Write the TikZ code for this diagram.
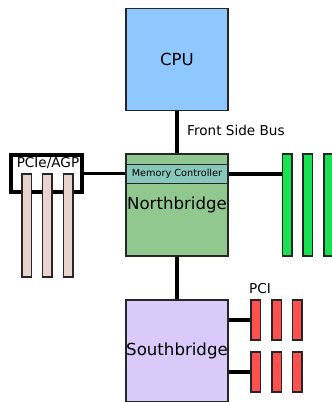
\documentclass[tikz,border=0pt]{standalone}
\usepackage{fontspec}
\setmainfont{DejaVu Sans}
\usetikzlibrary{positioning}
\definecolor{CpuBlue}{RGB}{143,200,255}
\definecolor{NbGreen}{RGB}{144,200,144}
\definecolor{McTeal}{RGB}{136,200,186}
\definecolor{SbLilac}{RGB}{218,202,250}
\definecolor{DimmGreen}{RGB}{24,226,82}
\definecolor{PciRed}{RGB}{255,80,80}
\definecolor{AgpBeige}{RGB}{232,212,204}

\begin{document}
\begin{tikzpicture}[x=1pt, y=-1pt,
  chip/.style={draw=black!85, line width=1.6pt, minimum width=102pt, minimum height=102pt,
    inner sep=0pt, font=\fontsize{16.6}{18}\selectfont},
  slot/.style={draw=black!85, line width=1.5pt, minimum width=9.5pt, inner sep=0pt},
  bus/.style={line width=3.6pt},
  lbl/.style={font=\fontsize{13.6}{15}\selectfont, inner sep=0pt}]

\useasboundingbox (0,0) rectangle (332,402);
\clip (0,0) rectangle (332,402);

\def\chipx{177}  % centre line of the three chips

% --- CPU ---
\node[chip, fill=CpuBlue] (cpu) at (\chipx, 59.5) {CPU};

% --- Northbridge ---
\node[chip, fill=NbGreen] (nb) at (\chipx, 205) {Northbridge};
\node[draw=black!85, line width=1.6pt, fill=McTeal, minimum width=102pt, minimum height=19pt,
  inner sep=0pt, font=\fontsize{9.7}{11}\selectfont] (mc) at (\chipx, 174) {Memory Controller};

% --- Southbridge ---
\node[chip, fill=SbLilac] (sb) at (\chipx, 351) {Southbridge};

% buses between the chips
\draw[bus] (cpu) -- (nb);
\draw[bus] (nb) -- (sb);
\node[lbl, anchor=west] (fsb) at (187, 130) {Front Side Bus};

% --- Memory sticks ---
\foreach \i/\x in {1/287, 2/307.8, 3/328.8}
  \node[slot, fill=DimmGreen, minimum height=102pt] (dimm\i) at (\x, 205) {};
\draw[bus] (mc.east) -- (mc.east -| dimm1.west);

% --- PCI slots ---
\foreach \i/\x in {1/255.5, 2/276.5, 3/297.2} {
  \node[slot, fill=PciRed, minimum height=40pt] (pcia\i) at (\x, 320) {};
  \node[slot, fill=PciRed, minimum height=40pt] (pcib\i) at (\x, 372) {};
}
\node[lbl] (pci) at (260, 289) {PCI};
\draw[bus] (sb.east |- pcia1.west) -- (pcia1.west);
\draw[bus] (sb.east |- pcib1.west) -- (pcib1.west);

% --- PCIe/AGP ---
\node[draw=black, line width=4pt, fill=white, minimum width=70.7pt, minimum height=37.6pt,
  inner sep=0pt] (agp) at (46.7, 173.5) {};
\node[lbl] (agplbl) at (48, 163) {PCIe/AGP};
\foreach \i/\x in {1/26.8, 2/47.2, 3/68}
  \node[slot, fill=AgpBeige, minimum height=103pt] (agp\i) at (\x, 225.3) {};
\draw[bus] (agp.east) -- (agp.east -| mc.west);

\end{tikzpicture}
\end{document}
